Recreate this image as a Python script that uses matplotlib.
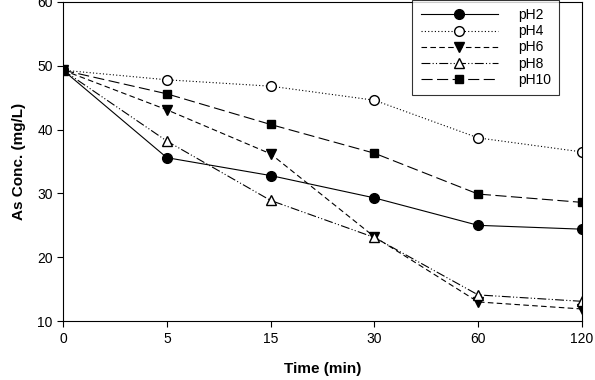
import matplotlib.pyplot as plt

plt.rcParams['font.family'] = ['Liberation Sans', 'DejaVu Sans']

# Time points (min), plotted evenly spaced
times = ['0', '5', '15', '30', '60', '120']

# As concentration (mg/L) at each pH
ph2 = [49.3, 35.6, 32.8, 29.3, 25.0, 24.4]
ph4 = [49.3, 47.8, 46.8, 44.6, 38.7, 36.5]
ph6 = [49.3, 43.1, 36.2, 23.2, 13.0, 11.9]
ph8 = [49.3, 38.2, 28.9, 23.1, 14.1, 13.1]
ph10 = [49.3, 45.6, 40.8, 36.3, 29.9, 28.6]

x = list(range(len(times)))

fig = plt.figure(figsize=(5.95, 3.8), dpi=100)
ax = fig.add_axes([0.106, 0.155, 0.872, 0.84])

lw = 0.8
ax.plot(x, ph2, color='black', linestyle='-', linewidth=lw,
        marker='o', markersize=7, markerfacecolor='black', label='pH2')
ax.plot(x, ph4, color='black', linestyle=(0, (1, 2)), linewidth=lw,
        marker='o', markersize=7, markerfacecolor='white', label='pH4')
ax.plot(x, ph6, color='black', linestyle=(0, (5, 3)), linewidth=lw,
        marker='v', markersize=7, markerfacecolor='black', label='pH6')
ax.plot(x, ph8, color='black', linestyle=(0, (8, 2, 1, 2, 1, 2)), linewidth=lw,
        marker='^', markersize=7, markerfacecolor='white', label='pH8')
ax.plot(x, ph10, color='black', linestyle=(0, (10, 4)), linewidth=lw,
        marker='s', markersize=6, markerfacecolor='black', label='pH10')

ax.set_xlim(0, len(times) - 1)
ax.set_ylim(10, 60)
ax.set_xticks(x)
ax.set_xticklabels(times)
ax.set_yticks([10, 20, 30, 40, 50, 60])
ax.tick_params(direction='out', length=4, labelsize=10, width=0.8)
for s in ax.spines.values():
    s.set_linewidth(0.8)

ax.set_xlabel('Time (min)', fontsize=11, fontweight='bold', labelpad=12)
ax.set_ylabel('As Conc. (mg/L)', fontsize=11, fontweight='bold', labelpad=8)

leg = ax.legend(loc='upper right', bbox_to_anchor=(0.956, 1.006), fontsize=10,
                handlelength=5.6, frameon=True, fancybox=False,
                edgecolor='black', borderpad=0.6, labelspacing=0.15,
                handletextpad=1.4, borderaxespad=0)
leg.get_frame().set_linewidth(0.8)

fig.savefig('out.png', dpi=100)
